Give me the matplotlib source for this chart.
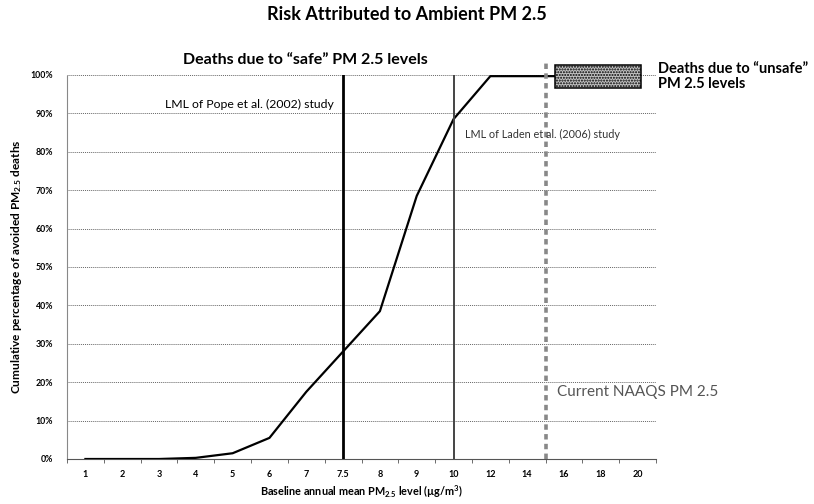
import matplotlib
matplotlib.use("Agg")
import matplotlib.pyplot as plt
import numpy as np
from matplotlib.patches import Rectangle

plt.rcParams['font.family'] = ['Lato', 'DejaVu Sans']
# subscripts/superscripts only appear in the bold axis labels
plt.rcParams['mathtext.fontset'] = 'custom'
plt.rcParams['mathtext.rm'] = 'Lato:bold'
plt.rcParams['mathtext.it'] = 'Lato:bold'
plt.rcParams['mathtext.bf'] = 'Lato:bold'

# baseline PM2.5 levels (categorical axis) and cumulative share of avoided deaths (%)
levels = ["1", "2", "3", "4", "5", "6", "7", "7.5", "8", "9", "10", "12", "14", "16", "18", "20"]
cum_pct = [0, 0, 0, 0.3, 1.5, 5.5, 17.5, 28, 38.5, 68.5, 88.5, 99.7, 99.7, 99.7]
y_ticks = [0, 10, 20, 30, 40, 50, 60, 70, 80, 90, 100]

pope_idx = levels.index("7.5")
laden_idx = levels.index("10")
naaqs_idx = 12.5   # 15 ug/m3, between the 14 and 16 categories

fig = plt.figure(figsize=(8.14, 5.04), dpi=100)
ax = fig.add_axes([67 / 814, 1 - 459 / 504, 589 / 814, 384 / 504])

x = np.arange(len(levels))
ax.set_xlim(-0.5, len(levels) - 0.5)
ax.set_ylim(0, 100)

# grid
for v in y_ticks[1:]:
    ax.axhline(v, color='#666666', lw=0.7, ls=(0, (1, 1)), zorder=1)

ax.plot(x[:len(cum_pct)], cum_pct, color='black', lw=1.6, zorder=3)

ax.axvline(pope_idx, color='black', lw=2.0, zorder=4)
ax.axvline(laden_idx, color='#444444', lw=1.4, zorder=4)
ax.plot([naaqs_idx, naaqs_idx], [0, 104], color='#888888', lw=2.6,
        ls=(0, (1.5, 1.2)), clip_on=False, zorder=4)

box = Rectangle((12.76, 96.6), 2.34, 6.0, facecolor='#c4c4c4', edgecolor='black',
                lw=1.1, hatch='......', clip_on=False, zorder=5)
ax.add_patch(box)

# axes styling
for side in ['top', 'right']:
    ax.spines[side].set_visible(False)
ax.spines['left'].set_color('#888888')
ax.spines['left'].set_linestyle((0, (1, 1)))
ax.spines['left'].set_linewidth(0.8)
ax.spines['bottom'].set_color('#555555')
ax.spines['bottom'].set_linewidth(0.8)

ax.set_xticks(x)
ax.set_xticklabels(levels, fontsize=6.5, fontweight='bold')
ax.set_xticks(np.arange(-0.5, len(levels), 1), minor=True)
ax.tick_params(axis='x', which='major', length=0, pad=8)
ax.tick_params(axis='x', which='minor', length=3, width=0.6, color='#555555')
ax.set_yticks(y_ticks)
ax.set_yticklabels([f"{v}%" for v in y_ticks], fontsize=6.3, fontweight='bold')
ax.tick_params(axis='y', length=0, pad=10)

ax.set_xlabel("Baseline annual mean PM$_{2.5}$ level (µg/m$^3$)", fontsize=7.8,
              fontweight='bold', labelpad=3)
ax.set_ylabel("Cumulative percentage of avoided PM$_{2.5}$ deaths", fontsize=8.6,
              fontweight='bold', labelpad=5)

# annotations
ax.text(pope_idx - 0.25, 92.2, "LML of Pope et al. (2002) study", fontsize=8.8,
        ha='right', va='center', zorder=6)
ax.text(10.3, 84.6, "LML of Laden et al. (2006) study", fontsize=7.8, color='#333333',
        ha='left', va='center', zorder=6)
ax.text(12.8, 17.4, "Current NAAQS PM 2.5", fontsize=11, color='#555555',
        ha='left', va='center', zorder=6)

fig.text(0.5, 1 - 15 / 504, "Risk Attributed to Ambient PM 2.5", fontsize=13,
         fontweight='bold', ha='center', va='center')
fig.text(305 / 814, 1 - 60 / 504, "Deaths due to \u201csafe\u201d PM 2.5 levels", fontsize=11.5,
         fontweight='bold', ha='center', va='center')
fig.text(658 / 814, 1 - 62 / 504, "Deaths due to \u201cunsafe\u201d\nPM 2.5 levels", fontsize=10.5,
         fontweight='bold', ha='left', va='top', linespacing=1.1)

fig.savefig("out.png", dpi=100)
